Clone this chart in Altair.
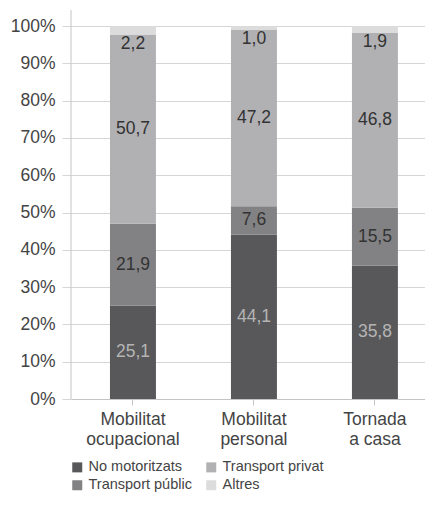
import altair as alt
import pandas as pd

categories = ["Mobilitat ocupacional", "Mobilitat personal", "Tornada a casa"]
series = ["No motoritzats", "Transport públic", "Transport privat", "Altres"]
no_motoritzats = [25.1, 44.1, 35.8]
transport_public = [21.9, 7.6, 15.5]
transport_privat = [50.7, 47.2, 46.8]
altres = [2.2, 1.0, 1.9]
y_ticks = [0, 10, 20, 30, 40, 50, 60, 70, 80, 90, 100]

colors = ["#58585a", "#828284", "#b1b1b3", "#dcdcdc"]
label_colors = ["#b4b4b4", "#333333", "#333333", "#333333"]

rows = []
for s_i, (s, vals) in enumerate(zip(series, [no_motoritzats, transport_public, transport_privat, altres])):
    for c, v in zip(categories, vals):
        rows.append({"cat": c, "serie": s, "val": v, "ord": s_i,
                     "lbl": f"{v:.1f}".replace(".", ",")})
df = pd.DataFrame(rows)

legend_order = ["No motoritzats", "Transport privat", "Transport públic", "Altres"]
legend_colors = [colors[series.index(s)] for s in legend_order]

FONT = "Liberation Sans"
TXT = "#444444"
PLOT_H = 373

base = alt.Chart(df)

x_scale = alt.Scale(paddingInner=0.62, paddingOuter=0.273, align=0.59)
y_scale = alt.Scale(domain=[0, 100], nice=False)

x_axis = alt.Axis(labelAngle=0, labelFontSize=17.5, labelColor=TXT,
                  labelFont=FONT, labelPadding=5, labelLineHeight=20,
                  labelExpr="[slice(datum.label, 0, indexof(datum.label, ' ')), slice(datum.label, indexof(datum.label, ' ') + 1)]",
                  domainColor="#c4c4c4", tickColor="#c4c4c4", tickSize=6,
                  grid=False, title=None)
y_axis = alt.Axis(values=y_ticks, labelExpr="datum.value + '%'", labelOverlap=False,
                  labelFontSize=17.5, labelColor=TXT, labelFont=FONT,
                  gridColor="#d6d6d6", tickColor="#d6d6d6", tickSize=9,
                  labelPadding=7, domain=False, title=None)

bars = base.mark_bar().encode(
    x=alt.X("cat:N", sort=categories, scale=x_scale, axis=x_axis),
    y=alt.Y("val:Q", stack="zero", scale=y_scale, axis=y_axis),
    color=alt.Color("serie:N", scale=alt.Scale(domain=legend_order, range=legend_colors),
                    legend=alt.Legend(title=None, orient="none", legendX=-1, legendY=434,
                                      columns=2, direction="horizontal",
                                      symbolType="square", symbolSize=100,
                                      symbolStrokeWidth=0, labelFontSize=14.5,
                                      labelFont=FONT, labelColor=TXT,
                                      columnPadding=12, rowPadding=3, labelOffset=4)),
    order=alt.Order("ord:Q"),
)

labels = base.transform_stack(
    stack="val", as_=["y0", "y1"], groupby=["cat"], sort=[alt.SortField("ord")]
).transform_calculate(
    mid="datum.serie == 'Altres' ? datum.y0 - 2.4 : (datum.y0 + datum.y1) / 2"
).mark_text(fontSize=17.5, font=FONT).encode(
    x=alt.X("cat:N", sort=categories, scale=x_scale, axis=x_axis),
    y=alt.Y("mid:Q", scale=y_scale, axis=y_axis),
    text="lbl:N",
    color=alt.Color("serie:N", scale=alt.Scale(domain=series, range=label_colors), legend=None),
)

yline = alt.Chart(pd.DataFrame({"a": [0]})).mark_rule(color="#c4c4c4").encode(
    x=alt.value(0), y=alt.value(-16), y2=alt.value(PLOT_H)
)

chart = alt.layer(bars, labels, yline).resolve_scale(color="independent").properties(
    width=354, height=PLOT_H,
    autosize=alt.AutoSizeParams(type="none"),
    padding={"left": 63, "top": 18, "right": 0, "bottom": 94},
).configure_view(stroke=None)

chart.save("out.html", embed_options={"renderer": "svg", "actions": False})
